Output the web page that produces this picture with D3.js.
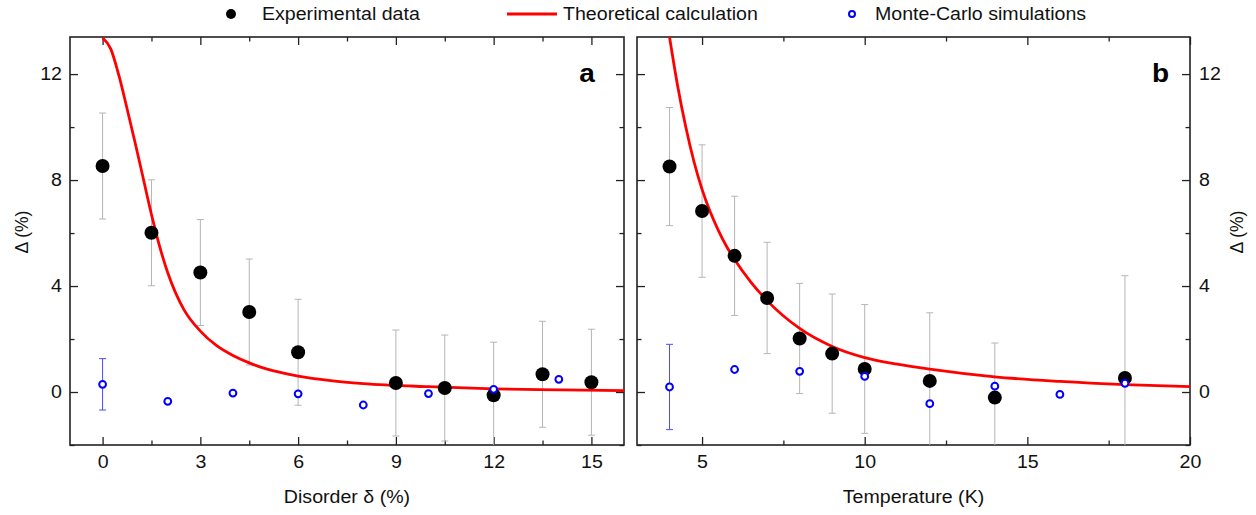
<!DOCTYPE html>
<head>
  <meta charset="utf-8">
  <style>
    body { margin: 0; background: #fff; }
    svg { display: block; font-family: "Liberation Sans", Arial, sans-serif; }
  </style>
  <script src="https://cdn.jsdelivr.net/npm/d3@7"></script>
</head>
<body>
<svg id=chart width="1256" height="515"></svg>
<script>
// panel a: disorder
const expA_x = [0, 1.5, 3, 4.5, 6, 9, 10.5, 12, 13.5, 15]
const expA_y = [8.53, 6.01, 4.51, 3.02, 1.50, 0.34, 0.15, -0.12, 0.67, 0.37]
const expA_err = [2.0, 2.0, 2.0, 2.0, 2.0, 2.0, 2.0, 2.0, 2.0, 2.0]
const mcA_x = [0, 2, 4, 6, 8, 10, 12, 14]
const mcA_y = [0.29, -0.35, -0.04, -0.07, -0.49, -0.06, 0.10, 0.48]
const mcA_err = [0.97, null, null, null, null, null, null, null]
const theoA_x = [0, 0.25, 0.5, 0.75, 1.0, 1.25, 1.5, 1.75, 2.0, 2.5, 3.0, 3.5, 4.0, 4.5, 5.0, 6.0, 7.0, 8.0, 10, 12, 14, 16]
const theoA_y = [13.37, 12.95, 11.95, 10.7, 9.4, 8.05, 6.7, 5.5, 4.5, 3.1, 2.3, 1.75, 1.38, 1.1, 0.88, 0.6, 0.43, 0.32, 0.2, 0.12, 0.08, 0.05]

// panel b: temperature
const expB_x = [4, 5, 6, 7, 8, 9, 10, 12, 14, 18]
const expB_y = [8.51, 6.83, 5.14, 3.55, 2.02, 1.45, 0.87, 0.42, -0.21, 0.53]
const expB_err = [2.23, 2.5, 2.25, 2.1, 2.08, 2.25, 2.43, 2.57, 2.06, 3.86]
const mcB_x = [4, 6, 8, 10, 12, 14, 16, 18]
const mcB_y = [0.19, 0.85, 0.78, 0.59, -0.44, 0.22, -0.09, 0.33]
const mcB_err = [1.61, null, null, null, null, null, null, null]
const theoB_x = [4, 4.25, 4.5, 4.75, 5, 5.25, 5.5, 5.75, 6, 6.5, 7, 8, 9, 10, 11, 12, 14, 16, 18, 20]
const theoB_y = [13.4, 11.55, 10.0, 8.7, 7.65, 6.8, 6.1, 5.5, 5.0, 4.15, 3.45, 2.4, 1.72, 1.3, 1.05, 0.86, 0.57, 0.4, 0.28, 0.2]

const yTicks = [0, 4, 8, 12]
const yMinor = [-2, 2, 6, 10]
const legendLabels = ['Experimental data', 'Theoretical calculation', 'Monte-Carlo simulations']

const svg = d3.select('#chart')
const top_ = 37, bottom = 445

const panels = [
  { id: 'a', xDom: [-1, 16], range: [70, 624], ticks: [0, 3, 6, 9, 12, 15], minor: [1.5, 4.5, 7.5, 10.5, 13.5],
    ex: expA_x, ey: expA_y, ee: expA_err, mx: mcA_x, my: mcA_y, me: mcA_err, tx: theoA_x, ty: theoA_y,
    side: 'left', xlabel: 'Disorder δ (%)', labelX: 587 },
  { id: 'b', xDom: [3, 20], range: [637, 1190], ticks: [5, 10, 15, 20], minor: [7.5, 12.5, 17.5],
    ex: expB_x, ey: expB_y, ee: expB_err, mx: mcB_x, my: mcB_y, me: mcB_err, tx: theoB_x, ty: theoB_y,
    side: 'right', xlabel: 'Temperature (K)', labelX: 1160.5 },
]

const y = d3.scaleLinear().domain([-2, 13.4]).range([bottom, top_])

panels.forEach(p => {
  const x = d3.scaleLinear().domain(p.xDom).range(p.range)
  const [x0, x1] = p.range
  const g = svg.append('g')
  const clipId = 'clip-' + p.id
  svg.append('clipPath').attr('id', clipId).append('rect')
    .attr('x', x0).attr('y', top_).attr('width', x1 - x0).attr('height', bottom - top_)

  // axes, ticks pointing inward
  const addAxis = (axis, tr, vals, size, labels, pad) => {
    const a = axis.tickValues(vals).tickSizeInner(-size).tickSizeOuter(0).tickPadding(pad || 0)
    if (!labels) a.tickFormat('')
    const ag = g.append('g').attr('transform', tr).call(a)
    ag.select('.domain').remove()
    ag.selectAll('line').attr('stroke', '#222').attr('stroke-width', 1.3)
    ag.selectAll('text').attr('font-size', 17.5).attr('fill', '#111').attr('font-family', null)
    return ag
  }
  addAxis(d3.axisBottom(x), `translate(0,${bottom})`, p.ticks, 8, true, 11)
  addAxis(d3.axisBottom(x), `translate(0,${bottom})`, p.minor, 4.5, false)
  addAxis(d3.axisTop(x), `translate(0,${top_})`, p.ticks, 8, false)
  addAxis(d3.axisTop(x), `translate(0,${top_})`, p.minor, 4.5, false)
  addAxis(d3.axisLeft(y), `translate(${x0},0)`, yTicks, 8, p.side === 'left', 8)
  addAxis(d3.axisLeft(y), `translate(${x0},0)`, yMinor, 4.5, false)
  addAxis(d3.axisRight(y), `translate(${x1},0)`, yTicks, 8, p.side === 'right', 9)
  addAxis(d3.axisRight(y), `translate(${x1},0)`, yMinor, 4.5, false)

  g.append('rect').attr('x', x0).attr('y', top_).attr('width', x1 - x0).attr('height', bottom - top_)
    .attr('fill', 'none').attr('stroke', '#222').attr('stroke-width', 1.6)

  const plot = g.append('g').attr('clip-path', `url(#${clipId})`)

  // error bars
  const exp = p.ex.map((v, i) => ({ x: v, y: p.ey[i], e: p.ee[i] }))
  const bar = (sel, data, color, cap) => {
    data.forEach(d => {
      const cx = x(d.x)
      sel.append('line').attr('x1', cx).attr('x2', cx).attr('y1', y(d.y - d.e)).attr('y2', y(d.y + d.e))
        .attr('stroke', color).attr('stroke-width', 1)
      ;[d.y - d.e, d.y + d.e].forEach(v => sel.append('line')
        .attr('x1', cx - cap).attr('x2', cx + cap).attr('y1', y(v)).attr('y2', y(v))
        .attr('stroke', color).attr('stroke-width', 1))
    })
  }
  bar(plot, exp, '#b5b5b5', 3.5)

  const mc = p.mx.map((v, i) => ({ x: v, y: p.my[i], e: p.me[i] }))
  bar(plot, mc.filter(d => d.e != null), '#4b4bff', 3.5)

  // theoretical curve
  const line = d3.line().x(d => x(d[0])).y(d => y(d[1])).curve(d3.curveMonotoneX)
  plot.append('path').datum(p.tx.map((v, i) => [v, p.ty[i]])).attr('d', line)
    .attr('fill', 'none').attr('stroke', '#ff0000').attr('stroke-width', 2.8)

  plot.selectAll('circle.exp').data(exp).join('circle').attr('class', 'exp')
    .attr('cx', d => x(d.x)).attr('cy', d => y(d.y)).attr('r', 7).attr('fill', '#000')

  plot.selectAll('circle.mc').data(mc).join('circle').attr('class', 'mc')
    .attr('cx', d => x(d.x)).attr('cy', d => y(d.y)).attr('r', 3.4)
    .attr('fill', '#fff').attr('stroke', '#0000ff').attr('stroke-width', 2)

  // panel letter
  g.append('text').attr('x', p.labelX).attr('y', 82).attr('text-anchor', 'middle')
    .attr('font-size', 25).attr('font-weight', 'bold').text(p.id)

  // axis titles
  g.append('text').attr('x', (x0 + x1) / 2).attr('y', 503)
    .attr('text-anchor', 'middle').attr('font-size', 17.5).attr('fill', '#111').text(p.xlabel)
  const yl = p.side === 'left' ? 21.5 : 1236.5
  g.append('text').attr('class', 'rot').attr('transform', `translate(${yl},232) rotate(-90)`)
    .attr('dy', '0.35em').attr('text-anchor', 'middle').attr('font-size', 17.5).attr('fill', '#111').text('Δ (%)')
})

// legend
const lg = svg.append('g')
lg.append('circle').attr('cx', 231).attr('cy', 14).attr('r', 5).attr('fill', '#000')
lg.append('line').attr('x1', 507).attr('x2', 557).attr('y1', 14).attr('y2', 14)
  .attr('stroke', '#ff0000').attr('stroke-width', 3)
lg.append('circle').attr('cx', 852).attr('cy', 14).attr('r', 3)
  .attr('fill', '#fff').attr('stroke', '#0000ff').attr('stroke-width', 2)
;[262, 563, 875].forEach((lx, i) => lg.append('text').attr('x', lx).attr('y', 20)
  .attr('font-size', 17.5).attr('fill', '#111').text(legendLabels[i]))

// the reference glyphs are a little wider than Arial: stretch them horizontally
svg.selectAll('text:not(.rot)').each(function () {
  const a = getComputedStyle(this).textAnchor
  const o = a === 'end' ? 'right' : a === 'middle' ? 'center' : 'left'
  d3.select(this).style('transform-box', 'fill-box').style('transform-origin', o + ' center')
    .style('transform', 'scaleX(1.12)')
})
</script>
</body>
